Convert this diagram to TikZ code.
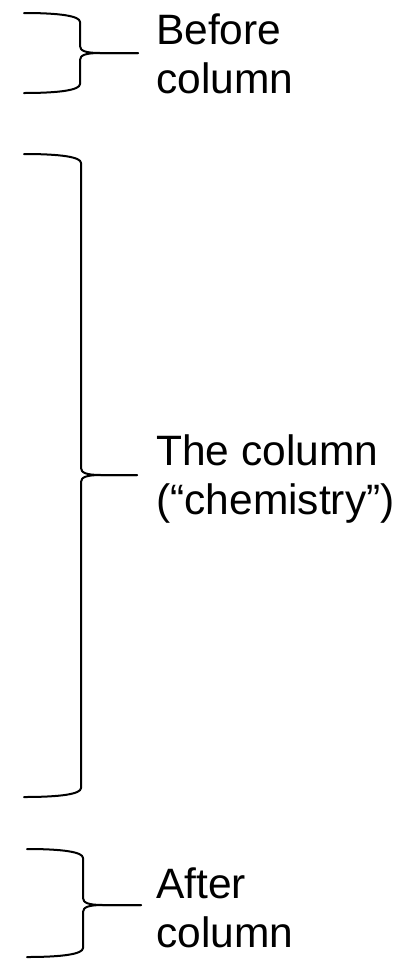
\documentclass[tikz,border=0pt]{standalone}
\usepackage{fontspec}
\setmainfont{Liberation Sans}
\newcommand\drawbrace[7]{% #1 name, #2 x left ends, #3 x vertical, #4 y top, #5 y tip, #6 y bottom, #7 x tip
  \coordinate (#1top) at (#2,#4);
  \coordinate (#1tip) at (#7,#5);
  \coordinate (#1bot) at (#2,#6);
  \draw[bracestyle] (#1top) .. controls (#3-20,#4) and (#3,#4+3) .. (#3,#4+9)
     -- (#3,#5-7) .. controls (#3,#5-2) and (#3+6,#5) .. (#3+20,#5) -- (#1tip);
  \draw[bracestyle] (#1tip) -- (#3+20,#5) .. controls (#3+6,#5) and (#3,#5+2) .. (#3,#5+7)
     -- (#3,#6-9) .. controls (#3,#6-3) and (#3-20,#6) .. (#1bot);
}
\begin{document}
\begin{tikzpicture}[x=1pt,y=-1pt,
  bracestyle/.style={line width=2pt, line join=round, line cap=round},
  lbl/.style={anchor=base west, inner sep=0pt, align=left, font=\fontsize{42.5}{49}\selectfont}]
\useasboundingbox (0,0) rectangle (397,959);
\drawbrace{b1}{24}{80}{13}{53}{93}{138}
\drawbrace{b2}{24}{81}{154}{475}{797}{137}
\drawbrace{b3}{27}{83}{849}{905}{957}{141}
\node[lbl] (before) at (156,93) {Before\\column};
\node[lbl] (col) at (156,514) {The column\\(“chemistry”)};
\node[lbl] (after) at (156,947) {After\\column};
\end{tikzpicture}
\end{document}
